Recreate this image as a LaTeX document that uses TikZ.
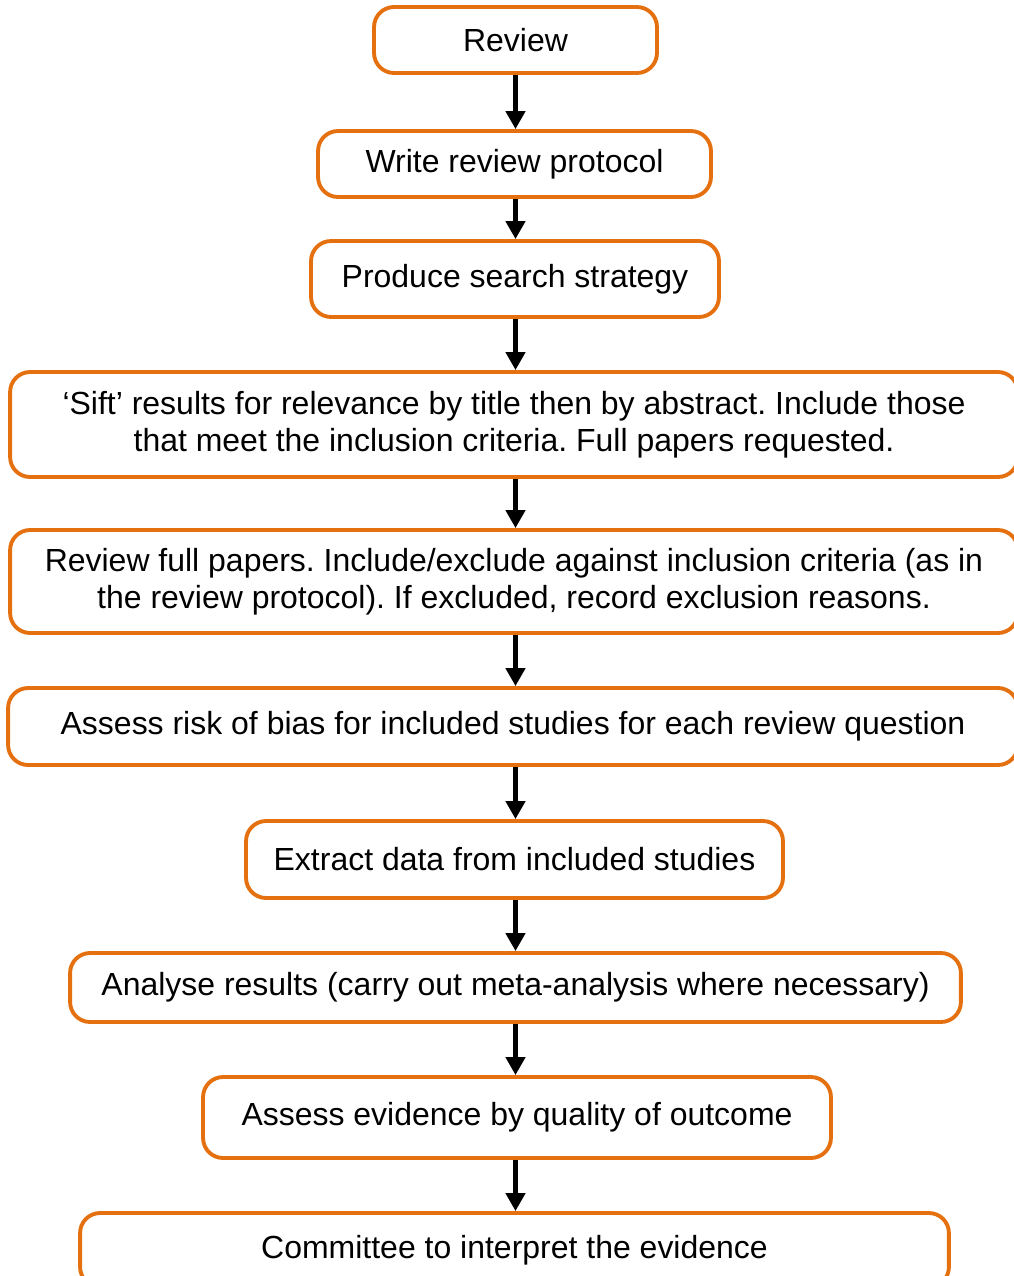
\documentclass[tikz,border=0pt]{standalone}
\usepackage{fontspec}
\setmainfont{Liberation Sans}
\usetikzlibrary{arrows.meta}

\definecolor{revOrange}{HTML}{E5700F}
\definecolor{revBlack}{HTML}{000000}

\begin{document}
\frenchspacing
\begin{tikzpicture}[x=0.02cm,y=-0.02cm,
    font=\fontsize{18.2}{21}\selectfont,
    stage/.style={draw=revOrange,line width=2.2pt,rounded corners=0.4cm,
      fill=white,align=center,inner sep=0pt},
    flow/.style={draw=revBlack,line width=2.8pt,
      -{Triangle[length=0.36cm,width=0.38cm]}}]

  % Page
  \clip (0,0) rectangle (1014,1276);

  % Boxes
  \node[stage,minimum width=5.66cm,minimum height=1.32cm]
    (review) at (515.5,40) {Review};
  \node[stage,minimum width=7.86cm,minimum height=1.32cm]
    (protocol) at (514.5,164) {Write review protocol};
  \node[stage,minimum width=8.16cm,minimum height=1.52cm]
    (search) at (515,279) {Produce search strategy};
  \node[stage,minimum width=20.16cm,minimum height=2.10cm]
    (sift) at (514,424.5)
    {`Sift' results for relevance by title then by abstract. Include those\\
     that meet the inclusion criteria. Full papers requested.};
  \node[stage,minimum width=20.16cm,minimum height=2.06cm]
    (papers) at (514,581.5)
    {Review full papers. Include/exclude against inclusion criteria (as in\\
     the review protocol). If excluded, record exclusion reasons.};
  \node[stage,minimum width=20.2cm,minimum height=1.54cm]
    (bias) at (513,726.5)
    {Assess risk of bias for included studies for each review question};
  \node[stage,minimum width=10.74cm,minimum height=1.54cm]
    (extract) at (514.5,859.5) {Extract data from included studies};
  \node[stage,minimum width=17.82cm,minimum height=1.38cm]
    (analyse) at (515.5,987.5)
    {Analyse results (carry out meta-analysis where necessary)};
  \node[stage,minimum width=12.56cm,minimum height=1.62cm]
    (quality) at (517,1117.5) {Assess evidence by quality of outcome};
  \node[stage,minimum width=17.38cm,minimum height=1.48cm]
    (committee) at (514.5,1250) {Committee to interpret the evidence};

  % Arrows
  \foreach \a/\b in {review/protocol,protocol/search,search/sift,
    sift/papers,papers/bias,bias/extract,extract/analyse,
    analyse/quality,quality/committee} {
    \draw[flow] (\a.south -| review) -- (\b.north -| review);
  }

\end{tikzpicture}
\end{document}
